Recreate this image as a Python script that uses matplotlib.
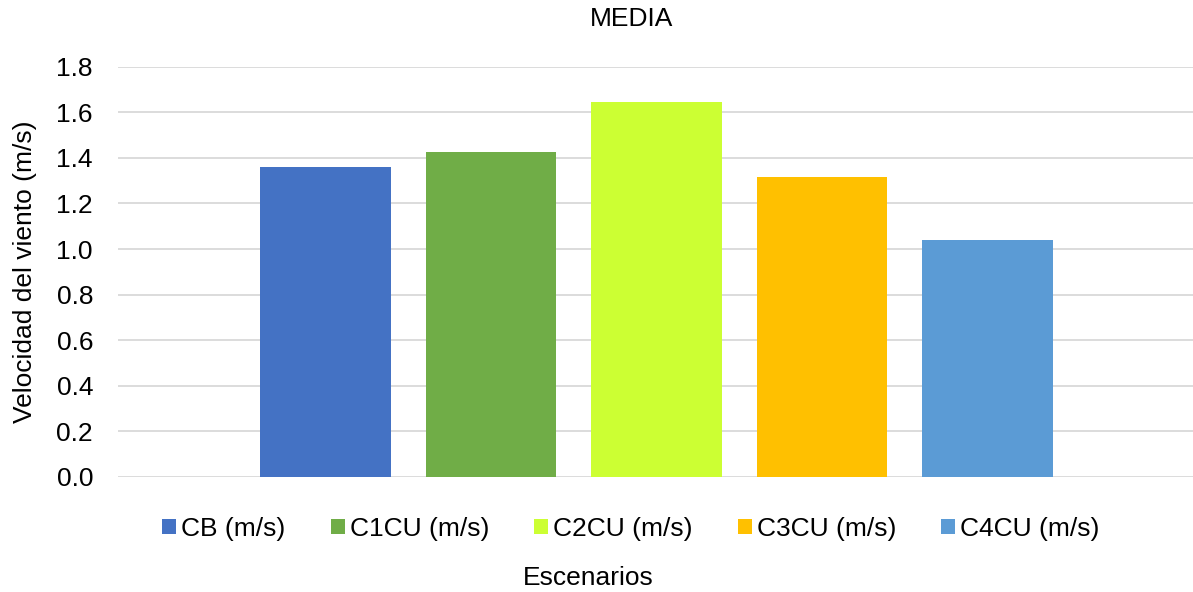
import matplotlib
matplotlib.use("Agg")
import matplotlib.pyplot as plt

plt.rcParams['font.family'] = ['Liberation Sans', 'DejaVu Sans']

series = ['CB (m/s)', 'C1CU (m/s)', 'C2CU (m/s)', 'C3CU (m/s)', 'C4CU (m/s)']
values = [1.36, 1.427, 1.647, 1.318, 1.04]
colors = ['#4472C4', '#70AD47', '#CCFF33', '#FFC000', '#5B9BD5']
yticks = [0.0, 0.2, 0.4, 0.6, 0.8, 1.0, 1.2, 1.4, 1.6, 1.8]

FS = 19

fig = plt.figure(figsize=(11.93, 5.92), dpi=100)
ax = fig.add_axes([118 / 1193, 1 - 477 / 592, 1 - 118 / 1193, (477 - 66.7) / 592])

for i, (name, v, c) in enumerate(zip(series, values, colors)):
    ax.bar(i, v, width=0.79, color=c, label=name, zorder=3)

ax.set_xlim(-1.254, 5.242)
ax.set_ylim(0, 1.8)
ax.set_yticks(yticks)
ax.set_yticklabels([f"{t:.1f}" for t in yticks], fontsize=FS)
ax.set_xticks([])
ax.grid(axis='y', color='#D9D9D9', linewidth=1.3, zorder=0)
ax.tick_params(axis='y', length=0, pad=18)
for s in ax.spines.values():
    s.set_visible(False)

fig.text(25 / 1193, 1 - 272 / 592, 'Velocidad del viento (m/s)', rotation=90,
         ha='center', va='center', fontsize=FS)
fig.text(632 / 1193, 1 - 19 / 592, 'MEDIA', ha='center', va='center', fontsize=FS)
fig.text(588 / 1193, 1 - 578 / 592, 'Escenarios', ha='center', va='center', fontsize=FS)

fig.legend(loc='center', bbox_to_anchor=(631 / 1193, 1 - 529 / 592), ncol=5, frameon=False,
           fontsize=FS, handlelength=0.53, handleheight=0.53, handletextpad=0.2,
           columnspacing=1.7, borderpad=0)

fig.savefig('out.png', dpi=100)
